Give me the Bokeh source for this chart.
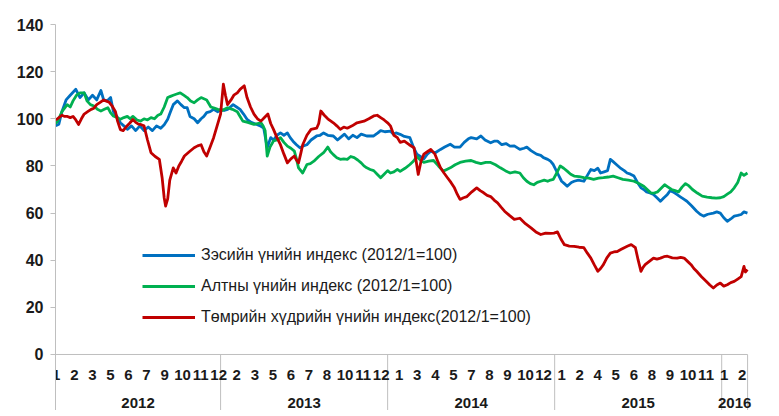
from bokeh.plotting import figure
from bokeh.models import Range1d, FixedTicker, Legend, LegendItem
from bokeh.core.properties import value
from bokeh.embed import file_html
from bokeh.resources import INLINE

# x = months since 2012-01-01
cu_m = [0.15,0.38,0.6,0.9,1.2,1.6,1.9,2.2,2.5,2.8,3.1,3.4,3.6,3.86,4.1,4.3,4.55,4.8,5.05,5.3,5.6,5.9,6.2,6.5,6.8,7.1,7.4,7.7,7.95,8.2,8.4,8.6,8.9,9.15,9.4,9.6,9.8,10.1,10.35,10.6,10.8,11.0,11.25,11.5,11.8,12.0,12.25,12.5,12.7,12.9,13.15,13.4,13.65,13.9,14.2,14.6,14.85,15.1,15.35,15.6,15.8,16.05,16.3,16.55,16.8,17.0,17.2,17.45,17.7,17.95,18.2,18.5,18.9,19.15,19.4,19.7,20.1,20.4,20.6,20.9,21.2,21.5,21.8,22.1,22.5,23.0,23.3,23.5,23.8,24.2,24.4,24.6,24.9,25.2,25.6,25.85,26.1,26.35,26.6,26.85,27.1,27.4,27.8,28.1,28.5,28.8,29.2,29.5,29.8,30.0,30.4,30.7,31.0,31.4,31.65,31.9,32.2,32.5,32.8,33.1,33.5,33.8,34.0,34.3,34.7,35.0,35.2,35.5,35.7,35.9,36.2,36.5,36.7,36.9,37.2,37.4,37.7,38.1,38.35,38.6,38.85,39.1,39.3,39.55,39.8,40.0,40.2,40.45,40.7,41.0,41.2,41.45,41.7,41.95,42.2,42.4,42.6,42.85,43.1,43.35,43.6,43.85,44.1,44.3,44.5,44.75,45.0,45.25,45.5,45.85,46.2,46.45,46.7,47.0,47.4,47.65,47.9,48.15,48.4,48.65,48.9,49.15,49.4,49.6,49.85]
cu_v = [97,97.7,103,108,110,112.5,109,111,108,110,108,112,108,107.6,109,103,101,98.3,97,95.5,97,95,97,95,96.5,95,97,96,97.5,99.8,103,106,107.6,106,104.7,104.7,101,100,98.3,100,101,102.6,103,104,103,104,103.5,104,105,106,105,104,102,99.8,98.5,97.6,97,96,87.7,92,91,93,94,93,94,92,90.5,89,87.7,88.5,89,91,92.7,93,94,93,92.7,91,92,93.5,91.5,93,92,93.5,92.7,92.7,94,95,94.5,94.8,93.5,94,93.4,92.5,92,88,85,84,83,85,86.3,85.5,87,88,89.2,88,88,90,91.5,92,91.5,92.7,91,89.8,90.5,90.5,89,89.5,88.4,88.5,87,87.5,88,86.5,85,84.5,83.5,82.8,82,80.6,77,73.5,72.5,71.4,73,73.5,74,73.5,76,78.5,78,79,77,77.5,78,82.8,81.8,80.5,79.2,78,77,76.5,75.7,73,70.7,70,69,68.5,67.9,66.5,65,66.5,67.9,69.5,69,68,67,66,65,63,60.8,59.5,58.7,59.5,60,60.5,60,58,56.5,57.5,58.7,59,59.4,60.5,60]

au_m = [0.15,0.3,0.6,0.98,1.2,1.4,1.65,1.9,2.2,2.4,2.65,2.9,3.15,3.4,3.65,3.9,4.1,4.3,4.55,4.8,5.05,5.3,5.5,5.7,6.0,6.25,6.5,6.75,7.0,7.25,7.5,7.7,7.95,8.2,8.4,8.6,8.85,9.1,9.35,9.6,9.85,10.1,10.35,10.6,10.8,11.0,11.15,11.3,11.55,11.8,12.1,12.5,12.85,13.2,13.4,13.6,13.95,14.4,14.65,14.9,15.05,15.2,15.35,15.55,15.8,16.05,16.3,16.55,16.8,17.05,17.3,17.45,17.6,17.9,18.2,18.45,18.7,19.05,19.4,19.7,19.9,20.1,20.35,20.6,20.85,21.1,21.35,21.6,21.85,22.1,22.3,22.5,22.75,23.0,23.25,23.5,23.75,24.0,24.2,24.45,24.7,24.9,25.25,25.6,25.85,26.1,26.35,26.6,26.95,27.3,27.65,28.0,28.25,28.5,28.85,29.2,29.6,30.0,30.35,30.7,31.05,31.4,31.75,32.1,32.45,32.8,33.15,33.5,33.75,34.0,34.25,34.5,34.75,35.0,35.25,35.5,35.7,35.9,36.15,36.4,36.65,36.9,37.15,37.4,37.75,38.1,38.45,38.8,39.15,39.5,39.85,40.2,40.55,40.9,41.3,41.7,42.05,42.4,42.65,42.9,43.15,43.4,43.65,43.9,44.15,44.4,44.65,44.9,45.15,45.4,45.65,45.9,46.25,46.6,46.95,47.3,47.6,47.9,48.15,48.4,48.65,48.9,49.15,49.4,49.6,49.85]
au_v = [98,99,103,106,105,107.6,110,111,111,107.6,106,105.4,104,103.3,104,104.7,102.5,101.2,100.5,99.8,100.5,101,100,101,99.5,99,100,99.5,100.5,100,101.5,102,105,109,109.5,110,110.5,111,110,109,107.5,106.8,108,109,108.5,108,106.5,105,104.5,104,103.5,104.7,104,103,101,99,98.5,97.6,98,98.3,97,95,84.2,88,90.6,91,92,90,88.4,87.5,86.3,83,79.2,77,80.6,81,82,84,85.6,88,86,84.8,83.5,82.8,83,82.8,84,83.5,82.5,81.3,80,79.2,78.5,78,76.5,75,76.5,78,77,77.5,78.5,77.7,79,80.6,82,84,82.5,81.5,82,82.3,80,77.8,78.5,79.2,80.5,81.5,82,82.3,81.5,81,81.5,81.5,80.5,79.2,78,77,77.5,77,75,73.5,72.5,72,73,73.5,74,73.5,74,74.3,77,80,79,77.8,76.5,75.7,75.5,75,74.8,74.3,74.8,75,75.3,75.7,75,74.3,74,73.5,72.5,71.4,70,68.6,68.5,69,70.5,72,71,70,69.5,69,71,72.5,71.5,70,68.5,67.2,66.8,66.5,66.3,66.5,67,68,69,70.7,73,77,76,77]

fe_m = [0.15,0.27,0.6,0.8,1.0,1.2,1.4,1.6,1.8,2.0,2.2,2.45,2.7,2.9,3.1,3.35,3.6,3.8,4.0,4.2,4.45,4.6,4.8,5.0,5.2,5.45,5.7,5.9,6.1,6.3,6.5,6.75,7.0,7.3,7.6,7.8,7.95,8.05,8.2,8.35,8.6,8.8,9.0,9.2,9.4,9.75,10.1,10.35,10.6,10.8,11.0,11.25,11.5,11.75,12.0,12.2,12.35,12.5,12.75,12.95,13.2,13.4,13.7,13.9,14.15,14.4,14.65,14.9,15.15,15.4,15.6,15.8,16.05,16.3,16.55,16.8,17.05,17.3,17.45,17.6,17.75,17.9,18.2,18.5,18.9,19.05,19.2,19.45,19.7,20.1,20.35,20.6,20.85,21.1,21.45,21.8,22.3,22.65,23.0,23.25,23.5,23.75,24.0,24.2,24.45,24.7,24.9,25.2,25.55,25.9,26.05,26.2,26.4,26.6,26.85,27.1,27.4,27.6,27.8,28.05,28.3,28.55,28.8,29.0,29.2,29.45,29.7,30.05,30.4,30.65,30.9,31.15,31.4,31.65,31.9,32.15,32.4,32.75,33.1,33.5,33.9,34.3,34.65,35.0,35.35,35.7,35.95,36.2,36.45,36.7,37.05,37.4,37.75,38.1,38.35,38.6,38.85,39.1,39.3,39.5,39.75,40.0,40.25,40.5,40.75,41.0,41.25,41.5,41.65,41.8,42.0,42.2,42.35,42.5,42.8,43.1,43.35,43.6,43.85,44.1,44.45,44.8,45.05,45.3,45.55,45.8,46.0,46.2,46.55,46.9,47.15,47.4,47.65,47.9,48.15,48.4,48.65,48.9,49.15,49.4,49.6,49.7,49.85]
fe_v = [99.5,100,101.5,101,101,100.5,101,99.5,97.6,100,102,103,104,104.5,106,107,108,107.5,107,105.5,103,99,95.4,95,96.5,98,99.7,98.5,97.7,97.5,97,91,85.6,84,82.8,75,66.4,63,66,74,79.2,77,80,82,84.2,86,87.7,88.5,89,86,84.2,88,92,97,102,114.7,110,106,108,110,111,112.5,114,109,105,102,100,99,100.5,102,98,95.5,92,89,85,81.3,83,84.2,82.5,81.3,85,89,93,95.5,96,98,103.3,101.5,100,98.3,97,95.5,96.5,96,97,98.3,99,100,101.2,101.5,100.5,99.5,98.3,97,93,92,90,90.5,89,87.7,82,76.4,82,85,86,87,85,82,79.2,77,75,73,70.7,68,65.8,66.5,67,69,70.7,69.5,68.6,67.5,67,65.5,64.3,62.5,60.8,59,57.3,57.8,55.5,53.7,52,50.9,51.5,51.4,51.5,52,49,46.6,46,45.9,45.5,45.3,43,40.9,38,35.3,36.5,38.1,41,43,43.5,43.7,44.5,45.3,46,46.6,46,45.3,40,35.3,37,38.1,39.5,40.9,40.5,40.9,41.5,41.7,41,40.9,41.2,40.9,39.5,38.1,36.5,35.3,33,31,29.5,28.2,29.5,30.3,29,29.6,30.5,31,32,33,37.4,35,36]

series_names = ["Зэсийн үнийн индекс (2012/1=100)",
                "Алтны үнийн индекс (2012/1=100)",
                "Төмрийн хүдрийн үнийн индекс(2012/1=100)"]
series_colors = ["#0070C0", "#00B050", "#C00000"]

y_ticks = [0, 20, 40, 60, 80, 100, 120, 140]
month_labels = ["1","2","3","5","6","7","9","10","11","12",
                "2","3","5","6","7","8","10","11","12",
                "1","3","4","5","7","8","9","10","12",
                "1","2","4","5","6","8","9","10","11",
                "1","2"]
years = ["2012", "2013", "2014", "2015", "2016"]
year_bounds = [0.14, 12, 24, 36, 48, 49.86]

# layout constants
Y_MIN = -23.76
LABEL_START, LABEL_STEP = 0.194, 1.2967
MONTH_Y, YEAR_Y = -8.9, -20.6
GRAY = "#BFBFBF"
TXT = "#1a1a1a"

p = figure(width=771, height=410, output_backend="svg", toolbar_location=None,
           x_range=Range1d(0.14, 50.5), y_range=Range1d(Y_MIN, 140),
           x_axis_type=None,
           min_border_left=55, min_border_right=15, min_border_top=24, min_border_bottom=0)
p.outline_line_color = None
p.ygrid.visible = False
p.background_fill_color = "white"

ya = p.yaxis[0]
ya.ticker = FixedTicker(ticks=y_ticks)
ya.axis_line_color = GRAY
ya.major_tick_line_color = GRAY
ya.major_tick_out = 5
ya.major_tick_in = 0
ya.minor_tick_line_color = None
ya.major_label_text_font = "Liberation Sans"
ya.major_label_text_font_style = "bold"
ya.major_label_text_font_size = "16px"
ya.major_label_text_color = TXT
ya.major_label_standoff = 7

# category axis (drawn in data space below y=0)
p.segment(x0=[year_bounds[0]], y0=[0], x1=[year_bounds[-1]], y1=[0], line_color=GRAY, line_width=1)
p.segment(x0=year_bounds, y0=[0]*len(year_bounds), x1=year_bounds, y1=[Y_MIN]*len(year_bounds),
          line_color=GRAY, line_width=1)
mx = [LABEL_START + LABEL_STEP * k for k in range(len(month_labels))]
p.text(x=mx, y=[MONTH_Y]*len(mx), text=month_labels, text_align="center", text_baseline="middle",
       text_font=value("Liberation Sans"), text_font_style="bold", text_font_size="15px", text_color=TXT)
yc = [(year_bounds[i] + year_bounds[i+1]) / 2 for i in range(len(years))]
p.text(x=yc, y=[YEAR_Y]*len(yc), text=years, text_align="center", text_baseline="middle",
       text_font=value("Liberation Sans"), text_font_style="bold", text_font_size="15px", text_color=TXT)

rs = []
for xs, ys, c in [(cu_m, cu_v, series_colors[0]), (au_m, au_v, series_colors[1]), (fe_m, fe_v, series_colors[2])]:
    rs.append(p.line(xs, ys, line_color=c, line_width=2.8, line_join="round"))

legend = Legend(items=[LegendItem(label=n, renderers=[r]) for n, r in zip(series_names, rs)],
                location=(87, 83), orientation="vertical",
                glyph_width=53, glyph_height=20, label_height=20, spacing=11,
                padding=0, margin=0, label_standoff=6,
                background_fill_alpha=0, border_line_color=None,
                label_text_font="Liberation Sans", label_text_font_size="16px", label_text_color=TXT)
p.add_layout(legend)

open("out.html", "w").write(file_html(p, INLINE))
